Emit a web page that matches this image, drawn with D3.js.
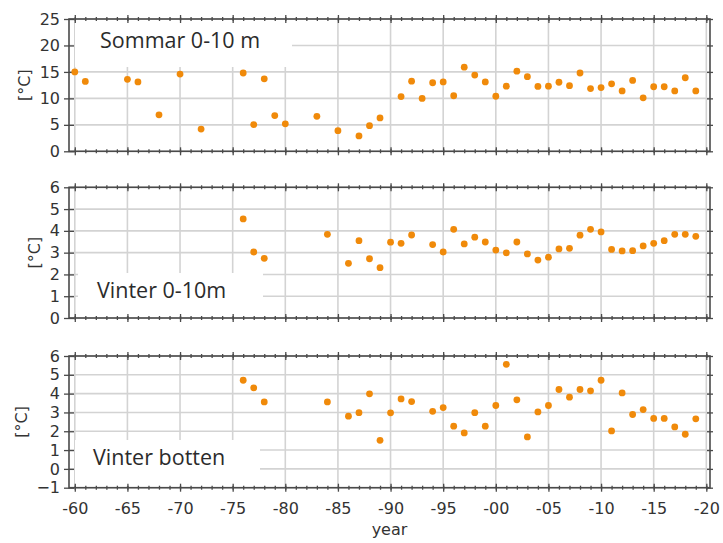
<!DOCTYPE html>
<html>
<head>
<meta charset="utf-8">
<script src="https://cdn.jsdelivr.net/npm/d3@7/dist/d3.min.js"></script>
<style>
  html, body { margin: 0; padding: 0; background: #fff; }
  svg { display: block; }
</style>
</head>
<body>
<svg id="chart" width="723" height="543"></svg>
<script>
// ---------- data ----------
const sommarYears = [1960,1961,1965,1966,1968,1970,1972,1976,1977,1978,1979,1980,1983,1985,1987,1988,1989,
  1991,1992,1993,1994,1995,1996,1997,1998,1999,2000,2001,2002,2003,2004,2005,2006,2007,2008,2009,2010,
  2011,2012,2013,2014,2015,2016,2017,2018,2019];
const sommarValues = [15.0,13.2,13.6,13.1,6.9,14.6,4.2,14.8,5.05,13.7,6.75,5.2,6.6,3.9,2.9,4.85,6.3,
  10.35,13.25,10.0,12.95,13.1,10.5,15.9,14.4,13.1,10.4,12.3,15.15,14.1,12.25,12.3,13.05,12.4,14.8,11.85,12.05,
  12.75,11.4,13.4,10.1,12.2,12.2,11.4,13.9,11.4];

const vinterYears = [1976,1977,1978,1984,1986,1987,1988,1989,1990,1991,1992,1994,1995,1996,1997,1998,1999,
  2000,2001,2002,2003,2004,2005,2006,2007,2008,2009,2010,2011,2012,2013,2014,2015,2016,2017,2018,2019];
const vinterValues = [4.55,3.03,2.74,3.84,2.51,3.55,2.72,2.31,3.48,3.43,3.81,3.37,3.03,4.07,3.4,3.71,3.49,
  3.12,2.99,3.49,2.94,2.66,2.79,3.17,3.2,3.8,4.07,3.95,3.15,3.08,3.09,3.31,3.43,3.55,3.84,3.84,3.75];

const bottenYears = [1976,1977,1978,1984,1986,1987,1988,1989,1990,1991,1992,1994,1995,1996,1997,1998,1999,
  2000,2001,2002,2003,2004,2005,2006,2007,2008,2009,2010,2011,2012,2013,2014,2015,2016,2017,2018,2019];
const bottenValues = [4.71,4.31,3.56,3.56,2.8,2.99,3.99,1.52,2.98,3.72,3.58,3.06,3.26,2.27,1.91,2.99,2.27,
  3.37,5.56,3.67,1.7,3.03,3.37,4.22,3.81,4.22,4.15,4.71,2.02,4.04,2.89,3.15,2.68,2.68,2.23,1.84,2.66];

const xTickValues = [1960,1965,1970,1975,1980,1985,1990,1995,2000,2005,2010,2015,2020];
const xTickLabels = ["-60","-65","-70","-75","-80","-85","-90","-95","-00","-05","-10","-15","-20"];
const panelTitles = ["Sommar 0-10 m", "Vinter 0-10m", "Vinter botten"];
const yDomains = [[0,25],[0,6],[-1,6]];
const yTickSets = [[0,5,10,15,20,25],[0,1,2,3,4,5,6],[-1,0,1,2,3,4,5,6]];
const yLabelText = "[°C]";
const xLabelText = "year";

// ---------- layout ----------
const svg = d3.select("#chart");
const X0 = 69, X1 = 710;
const x = d3.scaleLinear().domain([1959.45, 2020.35]).range([X0, X1]);
const panels = [
  { top: 19,    bottom: 151.3, years: sommarYears, values: sommarValues,
    box: [75, 20, 217, 47], textPos: [100, 48] },
  { top: 187.3, bottom: 318,   years: vinterYears, values: vinterValues,
    box: [78, 273, 185, 43], textPos: [97, 297.5] },
  { top: 356,   bottom: 487.7, years: bottenYears, values: bottenValues,
    box: [75, 440, 185, 46], textPos: [93, 465] }
];
const gridColor = "#d3d3d3";
const spineColor = "#4a4a4a";
const textColor = "#333";
const dotColor = "#f08a0a";
const minorYears = d3.range(1960, 2021);

panels.forEach((p, i) => {
  const y = d3.scaleLinear().domain(yDomains[i]).range([p.bottom, p.top]);
  const g = svg.append("g");

  // grid
  g.append("g").selectAll("line.gx").data(xTickValues).join("line")
    .attr("x1", d => x(d)).attr("x2", d => x(d))
    .attr("y1", p.top).attr("y2", p.bottom)
    .attr("stroke", gridColor).attr("stroke-width", 1.6);
  g.append("g").selectAll("line.gy").data(yTickSets[i]).join("line")
    .attr("x1", X0).attr("x2", X1)
    .attr("y1", d => y(d)).attr("y2", d => y(d))
    .attr("stroke", gridColor).attr("stroke-width", 1.6);

  // label box
  g.append("rect")
    .attr("x", p.box[0]).attr("y", p.box[1])
    .attr("width", p.box[2]).attr("height", p.box[3])
    .attr("fill", "#fff");
  g.append("text")
    .attr("x", p.textPos[0]).attr("y", p.textPos[1])
    .attr("font-family", "'Open Sans', sans-serif")
    .attr("font-size", 21.5)
    .attr("fill", "#2b2b2b")
    .text(panelTitles[i]);

  // minor x ticks (top & bottom)
  const minorBottom = g.append("g")
    .attr("transform", `translate(0,${p.bottom - 2})`)
    .call(d3.axisBottom(x).tickValues(minorYears).tickSize(4).tickFormat(""));
  const minorTop = g.append("g")
    .attr("transform", `translate(0,${p.top + 2})`)
    .call(d3.axisTop(x).tickValues(minorYears).tickSize(4).tickFormat(""));

  // major x ticks
  const bottomAxis = d3.axisBottom(x).tickValues(xTickValues).tickSize(8).tickPadding(11)
    .tickFormat((d, k) => i === 2 ? xTickLabels[k] : "");
  const gb = g.append("g")
    .attr("transform", `translate(0,${p.bottom - 4})`)
    .call(bottomAxis);
  const gt = g.append("g")
    .attr("transform", `translate(0,${p.top + 4})`)
    .call(d3.axisTop(x).tickValues(xTickValues).tickSize(8).tickFormat(""));

  // y ticks
  const gl = g.append("g")
    .attr("transform", `translate(${X0 + 5},0)`)
    .call(d3.axisLeft(y).tickValues(yTickSets[i]).tickSize(10).tickPadding(4)
      .tickFormat(d => d < 0 ? "\u2212" + Math.abs(d) : String(d)));
  const gr = g.append("g")
    .attr("transform", `translate(${X1 - 3},0)`)
    .call(d3.axisRight(y).tickValues(yTickSets[i]).tickSize(6).tickFormat(""));

  [minorBottom, minorTop, gb, gt, gl, gr].forEach(ax => {
    ax.select(".domain").remove();
    ax.selectAll(".tick line").attr("stroke", spineColor).attr("stroke-width", 1.3);
    ax.selectAll(".tick text")
      .attr("font-family", "'DejaVu Sans', sans-serif")
      .attr("font-size", 16)
      .attr("fill", textColor);
  });

  // frame
  g.append("rect")
    .attr("x", X0).attr("y", p.top)
    .attr("width", X1 - X0).attr("height", p.bottom - p.top)
    .attr("fill", "none").attr("stroke", spineColor).attr("stroke-width", 1.6);

  // points
  g.append("g").selectAll("circle").data(p.years).join("circle")
    .attr("cx", d => x(d))
    .attr("cy", (d, k) => y(p.values[k]))
    .attr("r", 3.4)
    .attr("fill", dotColor);

  // y label, placed left of tick labels
  let minLeft = Infinity;
  gl.selectAll(".tick text").each(function() {
    const bb = this.getBBox();
    const m = this.getCTM();
    minLeft = Math.min(minLeft, bb.x + m.e);
  });
  const cy = (p.top + p.bottom) / 2;
  const lx = minLeft - 15;
  g.append("text")
    .attr("transform", `translate(${lx},${cy}) rotate(-90)`)
    .attr("text-anchor", "middle")
    .attr("dy", "0.35em")
    .attr("font-family", "'DejaVu Sans', sans-serif")
    .attr("font-size", 16)
    .attr("fill", textColor)
    .text(yLabelText);
});

svg.append("text")
  .attr("x", (X0 + X1) / 2).attr("y", 535)
  .attr("text-anchor", "middle")
  .attr("font-family", "'DejaVu Sans', sans-serif")
  .attr("font-size", 16)
  .attr("fill", textColor)
  .text(xLabelText);
</script>
</body>
</html>
